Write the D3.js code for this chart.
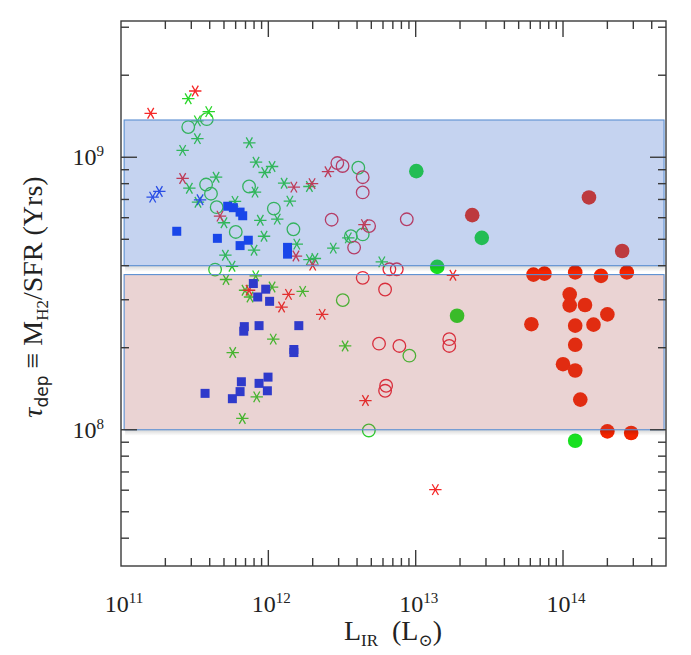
<!DOCTYPE html>
<html><head><meta charset="utf-8">
<script src="https://cdn.jsdelivr.net/npm/d3@7"></script>
<style>body{margin:0;background:#fff}svg{display:block}</style>
</head><body>
<script>
// ---- data: [L_IR (Lsun), tau_dep (yr)] ----
const blueSquares = [[2.39e11,5.35e8],[4.51e11,5.04e8],[5.30e11,6.61e8],[5.79e11,6.53e8],[6.43e11,6.29e8],[6.70e11,6.10e8],
  [7.31e11,4.96e8],[6.43e11,4.74e8],[1.35e12,4.67e8],[1.35e12,4.41e8],[7.91e11,3.44e8],[9.60e11,3.28e8],[8.47e11,3.07e8],
  [1.02e12,2.96e8],[6.87e11,2.39e8],[6.81e11,2.30e8],[8.65e11,2.41e8],[1.61e12,2.41e8],[1.49e12,1.97e8],[1.49e12,1.92e8],
  [6.56e11,1.50e8],[8.65e11,1.48e8],[9.95e11,1.56e8],[6.43e11,1.38e8],[9.85e11,1.39e8],[3.72e11,1.36e8],[5.70e11,1.30e8]];
const blueStars = [[1.64e11,7.14e8],[1.82e11,7.49e8],[3.44e11,6.98e8]];
const greenStars = [[2.86e11,1.64e9],[3.94e11,1.47e9],[3.30e11,1.36e9],[3.30e11,1.17e9],[2.62e11,1.06e9],[7.43e11,1.13e9],
  [8.25e11,9.59e8],[1.06e12,9.25e8],[9.45e11,8.79e8],[4.42e11,8.45e8],[2.91e11,7.70e8],[3.33e11,6.84e8],[5.94e11,6.89e8],
  [8.12e11,7.45e8],[1.28e12,8.03e8],[1.90e12,7.81e8],[1.40e12,6.90e8],[5.00e11,5.75e8],[8.82e11,5.87e8],[1.15e12,5.93e8],
  [9.35e11,5.13e8],[8.00e11,4.56e8],[5.11e11,4.37e8],[5.67e11,3.98e8],[1.56e12,4.80e8],[1.90e12,4.21e8],[2.07e12,4.25e8],
  [2.76e12,4.64e8],[3.49e12,5.06e8],[5.89e12,4.13e8],[5.16e11,3.56e8],[8.21e11,3.67e8],[1.06e12,3.34e8],[6.95e11,3.25e8],
  [7.51e11,3.07e8],[1.71e12,3.22e8],[1.08e12,2.15e8],[5.73e11,1.92e8],[3.32e12,2.03e8],[8.34e11,1.32e8],[6.66e11,1.10e8]];
const redStars = [[1.59e11,1.45e9],[3.19e11,1.75e9],[2.62e11,8.36e8],[4.70e11,6.08e8],[1.49e12,7.77e8],[1.98e12,8.00e8],
  [2.54e12,8.85e8],[4.49e12,5.66e8],[1.54e12,4.34e8],[2.00e12,4.02e8],[7.40e11,3.25e8],[1.37e12,3.14e8],[1.23e12,2.82e8],
  [2.32e12,2.65e8],[4.56e12,1.28e8],[1.79e13,3.69e8],[1.36e13,6.03e7]];
const greenOpen = [[2.86e11,1.29e9],[3.82e11,1.38e9],[3.78e11,7.94e8],[4.08e11,7.35e8],[4.46e11,6.56e8],[7.40e11,7.81e8],
  [1.09e12,6.48e8],[6.01e11,5.32e8],[1.48e12,5.44e8],[4.08e12,9.15e8],[3.63e12,5.13e8],[4.37e12,5.21e8],[4.35e11,3.87e8],
  [3.20e12,2.99e8],[9.06e12,1.87e8],[4.81e12,9.94e7]];
const redOpen = [[2.94e12,9.52e8],[3.19e12,9.29e8],[4.37e12,8.45e8],[4.37e12,7.43e8],[2.69e12,5.90e8],[4.83e12,5.59e8],
  [3.82e12,4.66e8],[8.70e12,5.92e8],[6.63e12,3.88e8],[7.44e12,3.88e8],[4.37e12,3.61e8],[6.20e12,3.27e8],[5.64e12,2.07e8],
  [7.75e12,2.03e8],[1.69e13,2.15e8],[1.69e13,2.03e8],[6.30e12,1.45e8],[6.20e12,1.39e8]];
const greenFilled = [[1.01e13,8.89e8],[2.81e13,5.06e8],[1.40e13,3.96e8],[1.91e13,2.62e8],[1.21e14,9.11e7]];
const redFilled = [[2.42e13,6.13e8],[1.50e14,7.12e8],[2.52e14,4.53e8],[6.30e13,3.71e8],[7.48e13,3.74e8],[1.21e14,3.78e8],
  [1.81e14,3.67e8],[2.71e14,3.78e8],[1.11e14,3.14e8],[1.11e14,2.86e8],[1.41e14,2.87e8],[2.00e14,2.65e8],[6.10e13,2.44e8],
  [1.21e14,2.41e8],[1.61e14,2.43e8],[1.21e14,2.05e8],[1.00e14,1.74e8],[1.21e14,1.65e8],[1.31e14,1.29e8],[2.00e14,9.86e7],
  [2.90e14,9.73e7]];
// shaded bands: [xmin, xmax, ymin, ymax]
const blueBand = [1.05e11, 4.85e14, 4.0e8, 1.37e9];
const pinkBand = [1.05e11, 4.85e14, 1.0e8, 3.71e8];
const xDomain = [1e11, 5e14];
const yDomain = [Math.pow(10,7.5), Math.pow(10,9.5)];
const xMajor = [1e11, 1e12, 1e13, 1e14];
const xLabels = ["11","12","13","14"];
const yMajor = [1e8, 1e9];
const yLabels = ["8","9"];

const W=691, H=655, L=121, R=666, T=21, B=566;
const svg = d3.select("body").append("svg").attr("width",W).attr("height",H);
const x = d3.scaleLog().domain(xDomain).range([L,R]);
const y = d3.scaleLog().domain(yDomain).range([B,T]);
const FONT = "'Liberation Serif','DejaVu Serif',serif";

const g = svg.append("g");
// asterisk path
function starPath(r){
  let p="";
  for(const a of [0,60,120]){const t=a*Math.PI/180,dx=r*Math.cos(t),dy=r*Math.sin(t);
    p+=`M${-dx},${-dy}L${dx},${dy}`;}
  return p;
}
function stars(data,color){
  g.selectAll(null).data(data).enter().append("path")
   .attr("transform",d=>`translate(${x(d[0])},${y(d[1])})`)
   .attr("d",starPath(6.2)).attr("stroke",color).attr("stroke-width",1.3).attr("fill","none");
}
function circles(data,color,r,filled){
  g.selectAll(null).data(data).enter().append("circle")
   .attr("cx",d=>x(d[0])).attr("cy",d=>y(d[1])).attr("r",r)
   .attr("fill",filled?color:"none").attr("stroke",color).attr("stroke-width",filled?0:1.3);
}
circles(greenOpen,"#30d030",6.3,false);
circles(redOpen,"#e8283a",6.3,false);
stars(greenStars,"#2ad62a");
stars(redStars,"#f52828");
stars(blueStars,"#2040f0");
g.selectAll(null).data(blueSquares).enter().append("rect")
 .attr("x",d=>x(d[0])-4.5).attr("y",d=>y(d[1])-4.5).attr("width",9).attr("height",9).attr("fill","#0a36f5");
circles(greenFilled,"#18e020",7.3,true);
circles(redFilled,"#f42400",7.3,true);

// bands with shadows
const defs = svg.append("defs");
const grad = defs.append("linearGradient").attr("id","sh").attr("x1",0).attr("y1",0).attr("x2",0).attr("y2",1);
grad.append("stop").attr("offset",0).attr("stop-color","#000").attr("stop-opacity",0.16);
grad.append("stop").attr("offset",1).attr("stop-color","#000").attr("stop-opacity",0);
function band(b,fill,op){
  const x0=x(b[0]),x1=x(b[1]),y0=y(b[3]),y1=y(b[2]);
  svg.append("rect").attr("x",x0+1).attr("y",y1).attr("width",x1-x0).attr("height",6).attr("fill","url(#sh)");
  svg.append("rect").attr("x",x0).attr("y",y0).attr("width",x1-x0).attr("height",y1-y0)
   .attr("fill",fill).attr("fill-opacity",op).attr("stroke","#5b8fd2").attr("stroke-width",1.1);
}
band(blueBand,"#3e6ccd",0.3);
band(pinkBand,"#a84545",0.24);

// axes / ticks
function minors(dom){const out=[];const e0=Math.floor(Math.log10(dom[0])),e1=Math.ceil(Math.log10(dom[1]));
  for(let e=e0;e<=e1;e++)for(let k=2;k<=9;k++){const v=k*Math.pow(10,e);if(v>dom[0]*1.001&&v<dom[1]*0.999)out.push(v);}return out;}
const xMin=minors(xDomain), yMin=minors(yDomain);
const ax = svg.append("g").attr("stroke","#3a3a3a").attr("stroke-width",1.4);
function tickSet(vals,len){
  vals.forEach(v=>{
    const xv=x(v);
    ax.append("line").attr("x1",xv).attr("x2",xv).attr("y1",B).attr("y2",B-len);
    ax.append("line").attr("x1",xv).attr("x2",xv).attr("y1",T).attr("y2",T+len);
  });
}
function tickSetY(vals,len){
  vals.forEach(v=>{
    const yv=y(v);
    ax.append("line").attr("y1",yv).attr("y2",yv).attr("x1",L).attr("x2",L+len);
    ax.append("line").attr("y1",yv).attr("y2",yv).attr("x1",R).attr("x2",R-len);
  });
}
tickSet(xMajor.filter(v=>v>xDomain[0]),16); tickSet(xMin,8);
tickSetY(yMajor,16); tickSetY(yMin,8);
ax.append("rect").attr("x",L).attr("y",T).attr("width",R-L).attr("height",B-T).attr("fill","none");

// tick labels
const lab = svg.append("g").attr("font-family",FONT).attr("fill","#222");
xMajor.forEach((v,i)=>{
  const t=lab.append("text").attr("x",x(v)+3).attr("y",612).attr("text-anchor","middle").attr("font-size",24);
  t.append("tspan").text("10");
  t.append("tspan").attr("font-size",15).attr("dy",-9).text(xLabels[i]);
});
yMajor.forEach((v,i)=>{
  const t=lab.append("text").attr("x",104).attr("y",y(v)+8).attr("text-anchor","end").attr("font-size",24);
  t.append("tspan").text("10");
  t.append("tspan").attr("font-size",15).attr("dy",-9).text(yLabels[i]);
});
// axis titles
const xt=lab.append("text").attr("x",393).attr("y",640).attr("text-anchor","middle").attr("font-size",28);
xt.append("tspan").text("L");
xt.append("tspan").attr("font-size",17).attr("dy",6).text("IR");
xt.append("tspan").attr("dy",-6).text("\u2002(L");
xt.append("tspan").attr("font-size",17).attr("dy",6).text("\u2299");
xt.append("tspan").attr("dy",-6).text(")");

const yt=lab.append("text").attr("transform","translate(42,297) rotate(-90)").attr("text-anchor","middle").attr("font-size",28);
yt.append("tspan").attr("font-style","italic").text("\u03c4");
yt.append("tspan").attr("font-size",17).attr("dy",6).attr("font-family","'DejaVu Sans',sans-serif").text("dep");
yt.append("tspan").attr("dy",-6).text(" \u2261 M");
yt.append("tspan").attr("font-size",17).attr("dy",6).text("H2");
yt.append("tspan").attr("dy",-6).text("/SFR (Yrs)");
</script>
</body></html>
